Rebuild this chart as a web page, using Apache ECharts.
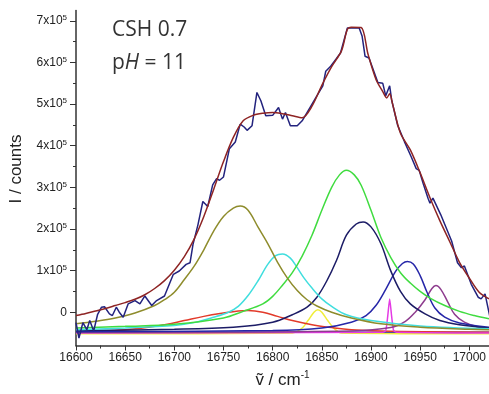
<!DOCTYPE html>
<html><head><meta charset="utf-8">
<script src="https://cdn.jsdelivr.net/npm/echarts@6/dist/echarts.min.js"></script>
<style>html,body{margin:0;padding:0;background:#fff}#c{width:489px;height:394px}</style>
</head><body><div id="c"></div>
<script>
// values in units of 1e5 counts; x in cm^-1
const xTicks = [16600,16650,16700,16750,16800,16850,16900,16950,17000];
const xMinor = [16625,16675,16725,16775,16825,16875,16925,16975];
const yTicks = [0,1,2,3,4,5,6,7];
const yMinor = [0.5,1.5,2.5,3.5,4.5,5.5,6.5];

const measured = [[16600,-0.25],[16603,-0.62],[16607,-0.25],[16611,-0.42],[16614,-0.2],[16618,-0.45],[16622,-0.05],[16626,0.12],[16629,0.13],[16634,-0.04],[16637,-0.08],[16641,0.12],[16644,0.0],[16648,-0.12],[16653,0.2],[16660,0.28],[16665,0.2],[16670,0.39],[16677,0.16],[16682,0.28],[16690,0.39],[16699,0.91],[16705,0.99],[16712,1.15],[16716,1.19],[16719,1.63],[16724,2.1],[16729,2.66],[16734,2.54],[16739,3.06],[16743,3.21],[16746,3.17],[16750,3.25],[16756,3.93],[16762,4.09],[16767,4.52],[16771,4.45],[16774,4.37],[16779,4.48],[16784,5.28],[16788,5.08],[16793,4.72],[16800,4.73],[16806,4.92],[16810,4.64],[16813,4.8],[16818,4.48],[16825,4.48],[16830,4.6],[16839,4.96],[16846,5.24],[16851,5.44],[16854,5.79],[16859,5.91],[16864,6.07],[16869,6.23],[16876,6.83],[16888,6.83],[16891,6.63],[16894,6.15],[16898,6.11],[16907,5.52],[16912,5.5],[16915,5.2],[16919,5.44],[16921,5.1],[16927,4.5],[16934,4.1],[16941,3.73],[16946,3.45],[16949,3.41],[16953,3.1],[16958,2.74],[16960,2.62],[16963,2.74],[16971,2.34],[16982,1.71],[16988,1.19],[16992,1.07],[16995,1.11],[17002,0.67],[17009,0.36],[17012,0.32],[17016,0.44],[17021,-0.12]];

const fitSum = [[16600,-0.08],[16610,-0.03],[16620,0.03],[16630,0.09],[16640,0.16],[16650,0.23],[16660,0.31],[16670,0.42],[16680,0.57],[16690,0.76],[16700,1.01],[16710,1.33],[16720,1.75],[16730,2.3],[16740,2.95],[16750,3.62],[16760,4.2],[16770,4.6],[16780,4.73],[16790,4.78],[16800,4.8],[16810,4.77],[16820,4.72],[16830,4.67],[16840,4.95],[16850,5.45],[16860,5.9],[16870,6.28],[16876,6.8],[16880,6.85],[16890,6.84],[16897,6.2],[16905,5.6],[16912,5.3],[16916,5.15],[16919,5.25],[16922,5.0],[16930,4.3],[16940,3.9],[16950,3.35],[16960,2.75],[16970,2.2],[16980,1.7],[16990,1.2],[17000,0.82],[17010,0.48],[17020,0.32]];

const peakOlive = [[16600,-0.28],[16620,-0.22],[16640,-0.14],[16660,-0.02],[16680,0.16],[16690,0.3],[16700,0.48],[16710,0.78],[16720,1.1],[16730,1.5],[16740,1.95],[16750,2.3],[16760,2.5],[16767,2.55],[16775,2.45],[16785,2.05],[16795,1.65],[16805,1.2],[16815,0.82],[16825,0.52],[16835,0.3],[16845,0.15],[16860,0.0],[16880,-0.14],[16910,-0.28],[16950,-0.36],[17000,-0.41],[17020,-0.42]];
const peakCyan = [[16600,-0.42],[16650,-0.38],[16700,-0.32],[16720,-0.25],[16740,-0.12],[16755,0.0],[16765,0.14],[16775,0.4],[16785,0.75],[16795,1.15],[16803,1.36],[16810,1.4],[16818,1.3],[16825,1.07],[16832,0.82],[16840,0.58],[16850,0.32],[16860,0.14],[16875,-0.06],[16900,-0.2],[16950,-0.33],[17020,-0.4]];
const peakGreen = [[16600,-0.38],[16650,-0.34],[16700,-0.29],[16750,-0.14],[16770,0.02],[16790,0.2],[16800,0.38],[16810,0.65],[16820,0.95],[16830,1.35],[16840,1.85],[16850,2.45],[16860,3.0],[16868,3.3],[16875,3.41],[16883,3.3],[16890,3.05],[16900,2.45],[16910,1.8],[16920,1.32],[16930,0.95],[16940,0.7],[16950,0.5],[16960,0.34],[16975,0.16],[16990,0.02],[17005,-0.08],[17020,-0.16]];
const peakNavy = [[16600,-0.44],[16700,-0.41],[16760,-0.36],[16800,-0.24],[16820,-0.06],[16835,0.12],[16845,0.36],[16855,0.75],[16865,1.25],[16875,1.85],[16885,2.12],[16892,2.17],[16900,2.05],[16910,1.65],[16920,1.0],[16930,0.5],[16940,0.2],[16955,-0.04],[16970,-0.2],[16990,-0.3],[17020,-0.38]];
const peakBlue = [[16600,-0.47],[16800,-0.44],[16850,-0.38],[16880,-0.24],[16895,-0.08],[16905,0.16],[16915,0.55],[16925,0.98],[16932,1.17],[16937,1.22],[16943,1.16],[16950,0.88],[16957,0.48],[16965,0.1],[16975,-0.12],[16990,-0.26],[17020,-0.36]];
const peakPurple = [[16600,-0.49],[16880,-0.45],[16920,-0.37],[16935,-0.22],[16945,0.0],[16955,0.3],[16962,0.57],[16966,0.64],[16971,0.55],[16978,0.25],[16985,-0.05],[16995,-0.24],[17010,-0.36],[17020,-0.4]];
const peakMagenta = [[16600,-0.5],[16912,-0.48],[16915,-0.44],[16917,-0.1],[16919,0.32],[16921,-0.1],[16923,-0.44],[16926,-0.48],[17020,-0.5]];
const peakYellow = [[16600,-0.52],[16820,-0.5],[16830,-0.38],[16836,-0.2],[16842,0.0],[16846,0.06],[16850,0.0],[16856,-0.2],[16862,-0.38],[16870,-0.5],[17020,-0.52]];
const peakRed = [[16600,-0.46],[16650,-0.42],[16690,-0.3],[16710,-0.2],[16730,-0.1],[16750,-0.02],[16765,0.03],[16775,0.04],[16790,0.0],[16805,-0.1],[16820,-0.2],[16840,-0.3],[16860,-0.37],[16880,-0.42],[16920,-0.46],[17020,-0.48]];
const baseline = [[16600,-0.48],[17020,-0.48]];

const chart = echarts.init(document.getElementById('c'), null, {renderer:'canvas'});
const axisColor = '#333';
function comp(data, color, smooth){
  return {type:'line', data:data, showSymbol:false, symbol:'none', smooth: smooth, lineStyle:{color:color, width:1.5}, z:2, animation:false};
}
chart.setOption({
  animation:false,
  backgroundColor:'#fff',
  grid:{left:76, right:0, top:10.5, bottom:45.4, containLabel:false},
  xAxis:[{
    type:'value', min:16600, max:17020,
    axisLine:{show:true, onZero:false, lineStyle:{color:axisColor, width:1.5}},
    axisTick:{show:true, length:5, lineStyle:{color:axisColor, width:1}, customValues:xTicks},
    axisLabel:{color:'#222', fontSize:12, fontFamily:'Liberation Sans', margin:6, customValues:xTicks,
      formatter:function(v){ return String(v); }},
    splitLine:{show:false},
    name:'{v|ṽ / cm}{s|-1}', nameLocation:'middle', nameGap:25,
    nameTextStyle:{rich:{v:{fontSize:17, fontFamily:'Liberation Sans', color:'#222', lineHeight:20}, s:{fontSize:10, fontFamily:'Liberation Sans', color:'#222', verticalAlign:'top', lineHeight:12}}}
  },{
    type:'value', min:16600, max:17020, position:'bottom',
    axisLine:{show:false, onZero:false}, axisLabel:{show:false}, splitLine:{show:false},
    axisTick:{show:true, length:3, lineStyle:{color:axisColor, width:1}, customValues:xMinor}
  }],
  yAxis:[{
    type:'value', min:-0.8, max:7.25,
    axisLine:{show:true, onZero:false, lineStyle:{color:axisColor, width:1.5}},
    axisTick:{show:true, length:6, lineStyle:{color:axisColor, width:1}, customValues:yTicks},
    axisLabel:{fontFamily:'Liberation Sans', margin:9, customValues:yTicks,
      formatter:function(v){ return v===0 ? '{b|0}' : '{b|'+v+'x10}{s|5}'; },
      rich:{b:{fontSize:12, color:'#222', fontFamily:'Liberation Sans', lineHeight:14}, s:{fontSize:8, color:'#222', fontFamily:'Liberation Sans', verticalAlign:'top', lineHeight:9}}},
    splitLine:{show:false},
    name:'I / counts', nameLocation:'middle', nameGap:51, nameRotate:90,
    nameTextStyle:{fontSize:17, fontFamily:'Liberation Sans', color:'#222', padding:[0,0,0,18]}
  },{
    type:'value', min:-0.8, max:7.25, position:'left',
    axisLine:{show:false, onZero:false}, axisLabel:{show:false}, splitLine:{show:false},
    axisTick:{show:true, length:3, lineStyle:{color:axisColor, width:1}, customValues:yMinor}
  }],
  graphic:[{
    type:'text', left:112, top:20,
    style:{text:'{n|CSH 0.7}\n{n|p}{i|H}{n| = 11}',
      rich:{n:{fontSize:21, fontFamily:'Open Sans', fill:'#333', lineHeight:33}, i:{fontSize:21, fontFamily:'Open Sans', fontStyle:'italic', fill:'#333', lineHeight:33}}}
  }],
  series:[
    comp(baseline,'#2a2ab8',false),
    comp(peakYellow,'#f0ee3a',0.3),
    comp(peakRed,'#e23a2a',0.4),
    comp(peakMagenta,'#e43ae4',0.2),
    comp(peakPurple,'#8e3c8e',0.35),
    comp(peakBlue,'#2626a8',0.35),
    comp(peakNavy,'#1c1c66',0.35),
    comp(peakCyan,'#40dede',0.35),
    comp(peakGreen,'#40dc40',0.35),
    comp(peakOlive,'#8e8c2c',0.35),
    {type:'line', data:measured, showSymbol:false, symbol:'none', lineStyle:{color:'#23237e', width:1.5}, z:3},
    {type:'line', data:fitSum, showSymbol:false, symbol:'none', smooth:0.3, lineStyle:{color:'#8e2424', width:1.5}, z:4}
  ]
});
</script></body></html>
